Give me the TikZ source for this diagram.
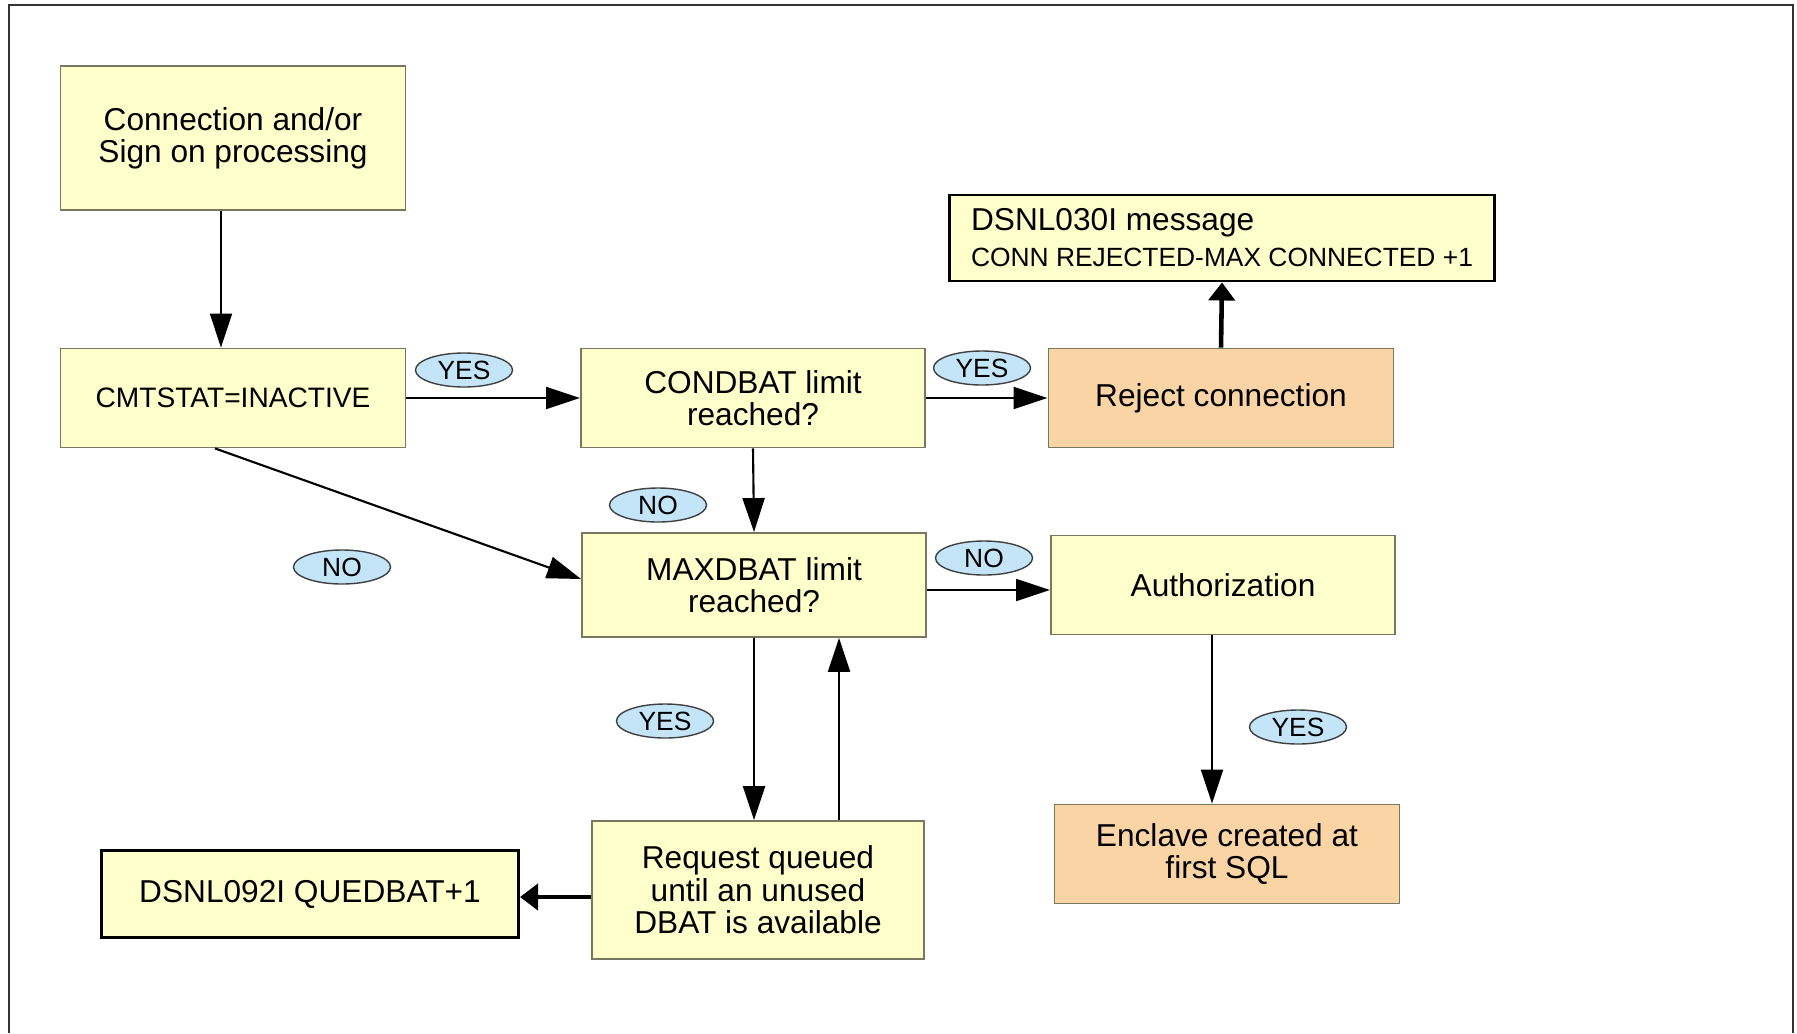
\documentclass[tikz,border=0pt]{standalone}
\usepackage{fontspec}
\setmainfont{Liberation Sans}
\usetikzlibrary{shapes.geometric,arrows.meta}
\definecolor{boxyellow}{RGB}{255,255,204}
\definecolor{boxorange}{RGB}{250,212,165}
\definecolor{boxline}{RGB}{120,120,96}
\definecolor{answerblue}{RGB}{196,228,248}
\tikzset{every node/.style={font=\fontsize{9}{9.2}\selectfont},
         flowbox/.style={draw=boxline,line width=0.5pt,fill=boxyellow,align=center,
                         inner sep=0pt,minimum width=3.45cm,minimum height=0.99cm},
         endbox/.style={flowbox,fill=boxorange},
         msgbox/.style={draw=black,line width=0.8pt,fill=boxyellow,inner sep=0pt},
         answer/.style={ellipse,draw=black!75,fill=answerblue,inner sep=0pt,
                        minimum width=0.97cm,minimum height=0.34cm,font=\fontsize{7.5}{8}\selectfont},
         flow/.style={draw,line width=0.6pt,-{Triangle[length=0.34cm,width=0.22cm]}},
         bold flow/.style={draw,line width=1.3pt,-{Triangle[length=0.18cm,width=0.26cm]}}}
\begin{document}
\begin{tikzpicture}[x=0.01cm,y=-0.01cm]
\useasboundingbox (0,0) rectangle (1797,1033);
\draw[line width=0.6pt,black!80] (9,1033) -- (9,5) -- (1793,5) -- (1793,1033);

\node[flowbox,minimum height=1.44cm] (conn) at (233,138) {Connection and/or\\Sign on processing};
\node[flowbox,font=\fontsize{8}{8.5}\selectfont] (cmt) at (233,398) {CMTSTAT=INACTIVE};
\node[flowbox,minimum width=3.44cm] (cond) at (753,398) {CONDBAT limit\\reached?};
\node[endbox] (reject) at (1221,398) {Reject connection};
\node[msgbox,minimum width=5.44cm,minimum height=0.86cm,align=left] (m030) at (1222,238)
     {DSNL030I message\\[1pt]{\fontsize{7.5}{8}\selectfont CONN REJECTED-MAX CONNECTED +1}};
\node[flowbox,minimum width=3.44cm,minimum height=1.04cm] (maxd) at (754,585) {MAXDBAT limit\\reached?};
\node[flowbox,minimum width=3.44cm] (auth) at (1223,585) {Authorization};
\node[flowbox,minimum width=3.32cm,minimum height=1.38cm] (req) at (758,890)
     {Request queued\\until an unused\\DBAT is available};
\node[endbox] (encl) at (1227,854) {Enclave created at\\first SQL};
\node[msgbox,minimum width=4.17cm,minimum height=0.87cm] (m092) at (310,894) {DSNL092I QUEDBAT+1};

\node[answer] (yes1) at (464,370) {YES};
\node[answer] (yes2) at (982,368) {YES};
\node[answer] (no1) at (658,505) {NO};
\node[answer] (no2) at (342,567) {NO};
\node[answer] (no3) at (984,558) {NO};
\node[answer] (yes3) at (665,721) {YES};
\node[answer] (yes4) at (1298,727) {YES};

\coordinate (c1) at ([xshift=-0.12cm]conn.south);
\coordinate (c2) at ([xshift=-0.18cm]cmt.south);
\coordinate (c3) at ([xshift=0.81cm]req.north);
\coordinate (c4) at ([xshift=-0.11cm]auth.south);
\coordinate (c5) at ([yshift=-0.05cm]maxd.east);

\draw[flow] (c1) -- (c1 |- cmt.north);
\draw[flow] (cmt.east) -- (cond.west);
\draw[flow] (cond.east) -- (reject.west);
\draw[bold flow] (reject.north) -- (m030.south);
\draw[flow] (cond.south) -- (maxd.north);
\draw[flow] (c2) -- ([yshift=0.06cm]maxd.west);
\draw[flow] (c5) -- (c5 -| auth.west);
\draw[flow] (maxd.south) -- (maxd.south |- req.north);
\draw[flow] (c3) -- (c3 |- maxd.south);
\draw[flow] (c4) -- (c4 |- encl.north);
\draw[bold flow] ([yshift=-0.07cm]req.west) -- ([yshift=-0.07cm]req.west -| m092.east);
\end{tikzpicture}
\end{document}
